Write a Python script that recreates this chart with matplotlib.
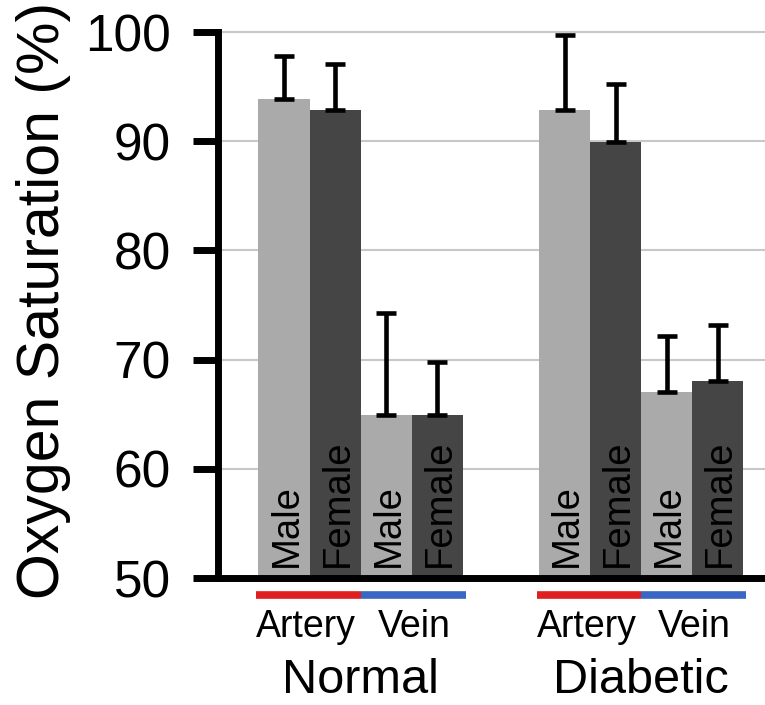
import numpy as np
import matplotlib.pyplot as plt

plt.rcParams['font.family'] = ['Liberation Sans', 'DejaVu Sans']

# Data
groups = ['Normal', 'Diabetic']
sexes = ['Male', 'Female', 'Male', 'Female']
vessels = ['Artery', 'Vein']
normal_means = [93.9, 92.9, 64.9, 64.9]
normal_err = [3.9, 4.2, 9.4, 4.9]
diabetic_means = [92.9, 89.9, 67.0, 68.0]
diabetic_err = [6.8, 5.3, 5.2, 5.2]
yticks = [50, 60, 70, 80, 90, 100]

light = '#aaaaaa'
dark = '#454545'
bar_colors = [light, dark, light, dark]

fig = plt.figure(figsize=(7.65, 7.05), dpi=100)
ax = fig.add_axes([218 / 765, 1 - 578 / 705, 1 - 218 / 765, (578 - 32) / 705])

group_pos = np.array([0.0, 5.5])
offsets = np.array([-1.5, -0.5, 0.5, 1.5])

for g, means, errs in zip(group_pos, [normal_means, diabetic_means], [normal_err, diabetic_err]):
    x = g + offsets
    ax.bar(x, means, width=1.0, color=bar_colors, zorder=2)
    ax.errorbar(x, means, yerr=[np.zeros(len(errs)), errs], fmt='none',
                ecolor='black', elinewidth=3.3, capsize=7, capthick=3.3, zorder=3)
    for xi, lab in zip(x, sexes):
        ax.text(xi + 0.05, 51.0, lab, rotation=90, ha='center', va='bottom',
                fontsize=27.5, color='black', zorder=4)

# red / blue bars under the axis and the text labels
trans = ax.get_xaxis_transform()
for g, name in zip(group_pos, groups):
    ax.plot([g - 2.04, g], [-0.032, -0.032], color='#e02020', lw=5.5,
            solid_capstyle='butt', transform=trans, clip_on=False)
    ax.plot([g, g + 2.06], [-0.032, -0.032], color='#3a66c4', lw=5.5,
            solid_capstyle='butt', transform=trans, clip_on=False)
    ax.text(g - 1.07, -0.108, vessels[0], ha='center', va='baseline',
            fontsize=27, transform=trans)
    ax.text(g + 1.05, -0.108, vessels[1], ha='center', va='baseline',
            fontsize=27, transform=trans)
    ax.text(g, -0.211, name, ha='center', va='baseline', fontsize=35,
            transform=trans)

ax.set_xlim(-2.794, 7.93)
ax.set_ylim(50, 100)
ax.set_yticks(yticks)
ax.set_xticks([])
ax.tick_params(axis='y', length=18, width=5, pad=16, labelsize=37, direction='out')

ax.grid(axis='y', color='#c8c8c8', lw=1.5, zorder=0)
for line in ax.get_ygridlines():
    line.set_clip_on(False)
ax.set_axisbelow(True)

for side in ['top', 'right']:
    ax.spines[side].set_visible(False)
for side in ['left', 'bottom']:
    ax.spines[side].set_linewidth(5)
    ax.spines[side].set_capstyle('projecting')

fig.text(44 / 765, 1 - 300 / 705, 'Oxygen Saturation (%)', rotation=90,
         ha='center', va='center', fontsize=42.5)

fig.savefig('out.png', dpi=100)
